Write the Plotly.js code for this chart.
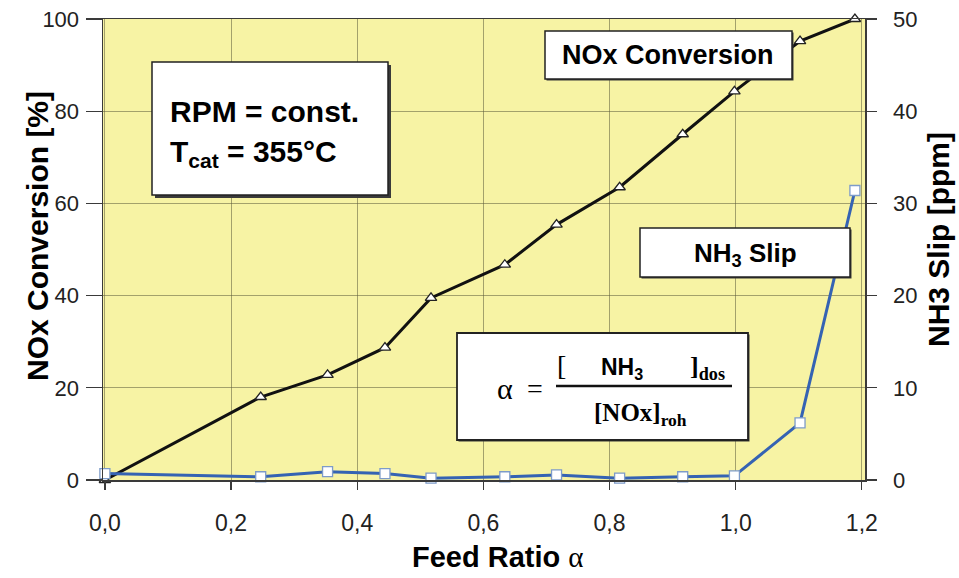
<!DOCTYPE html>
<html>
<head>
<meta charset="utf-8">
<script src="https://cdn.plot.ly/plotly-3.0.1.min.js"></script>
<style>
  html, body { margin: 0; padding: 0; background: #ffffff; }
  #chart { width: 959px; height: 578px; }
</style>
</head>
<body>
<div id="chart"></div>
<script>
// ---- data ----
const feedRatio     = [0, 0.247, 0.353, 0.444, 0.517, 0.634, 0.716, 0.816, 0.916, 0.998, 1.102, 1.189];
const noxConversion = [0, 18.0, 22.8, 28.7, 39.5, 46.7, 55.4, 63.5, 75.0, 84.3, 95.2, 100];
const nh3Slip       = [0.7, 0.35, 0.9, 0.7, 0.2, 0.35, 0.55, 0.2, 0.35, 0.45, 6.2, 31.4];

const xTickValues = [0, 0.2, 0.4, 0.6, 0.8, 1.0, 1.2];
const yLeftTicks  = [0, 20, 40, 60, 80, 100];
const yRightTicks = [0, 10, 20, 30, 40, 50];

const seriesNames = ['NOx Conversion', 'NH3 Slip'];
const xTitle = 'Feed Ratio';
const yLeftTitle = 'NOx Conversion [%]';
const yRightTitle = 'NH3 Slip [ppm]';

// ---- layout helpers (plot area in pixels) ----
const W = 959, H = 578;
const PL = 103, PR = 865, PT = 19, PB = 480;
const px = v => (v - PL) / (PR - PL);
const py = v => (PB - v) / (PB - PT);

const SANS = 'Arial, "Liberation Sans", Helvetica, sans-serif';
const SERIF = '"Times New Roman", "Liberation Serif", "DejaVu Serif", serif';

const traces = [
  {
    x: feedRatio, y: noxConversion, name: seriesNames[0], yaxis: 'y',
    type: 'scatter', mode: 'lines+markers', cliponaxis: false,
    line: { color: '#111111', width: 3 },
    marker: { symbol: 'triangle-up', size: 10, color: '#ffffff', line: { color: '#222222', width: 1.3 } }
  },
  {
    x: feedRatio, y: nh3Slip, name: seriesNames[1], yaxis: 'y2',
    type: 'scatter', mode: 'lines+markers', cliponaxis: false,
    line: { color: '#3563b3', width: 3 },
    marker: { symbol: 'square', size: 10, color: '#ffffff', line: { color: '#7d9bc9', width: 1.3 } }
  }
];

function boxShapes(x0, y0, x1, y1, shadow, lw) {
  const s = [];
  if (shadow) {
    s.push({ type: 'rect', xref: 'paper', yref: 'paper',
      x0: px(x0 + shadow), x1: px(x1 + shadow), y0: py(y1 + shadow), y1: py(y0 + shadow),
      fillcolor: '#3a3a3a', line: { width: 0 }, layer: 'above' });
  }
  s.push({ type: 'rect', xref: 'paper', yref: 'paper',
    x0: px(x0), x1: px(x1), y0: py(y1), y1: py(y0),
    fillcolor: '#ffffff', line: { color: '#222222', width: lw }, layer: 'above' });
  return s;
}

const shapes = [].concat(
  boxShapes(152, 62, 388, 195, 3, 1.5),
  boxShapes(545, 31, 792, 79, 1.5, 1.5),
  boxShapes(640, 228, 850, 277, 1.5, 1.5),
  boxShapes(457, 333, 748, 440, 1.5, 1.8),
  [{ type: 'line', xref: 'paper', yref: 'paper', x0: px(556), x1: px(732), y0: py(386), y1: py(386),
     line: { color: '#111111', width: 2.5 }, layer: 'above' }]
);

function ann(text, x, y, size, family, xanchor, extra) {
  return Object.assign({
    text: text, xref: 'paper', yref: 'paper', x: px(x), y: py(y),
    xanchor: xanchor || 'center', yanchor: 'middle', showarrow: false,
    font: { size: size, family: family, color: '#000000' }
  }, extra || {});
}

const annotations = [
  ann('<b>RPM = const.</b>', 168, 111, 30, SANS, 'left'),
  ann('<b>T<sub>cat</sub> = 355°C</b>', 168, 153, 30, SANS, 'left'),
  ann('<b>NOx Conversion</b>', 668, 55, 27, SANS),
  ann('<b>NH<sub>3</sub> Slip</b>', 745, 254, 26, SANS),
  ann('α', 505, 388, 30, SERIF),
  ann('=', 535, 388, 28, SERIF),
  ann('[', 561, 365, 28, SERIF),
  ann('<b>NH<sub>3</sub></b>', 622, 368, 23, SANS),
  ann('<b>]</b><sub><b>dos</b></sub>', 688, 368, 26, SERIF, 'left'),
  ann('<b>[NOx]</b><sub><b>roh</b></sub>', 640, 414, 25, SERIF),
  // axis titles
  ann('<b>' + xTitle + '</b> <span style="font-family:' + SERIF.replace(/"/g, "'") + '">α</span>', 498, 557, 29, SANS),
  ann('<b>' + yLeftTitle + '</b>', 38, 236, 30, SANS, 'center', { textangle: -90 }),
  ann('<b>' + yRightTitle + '</b>', 938, 240, 30, SANS, 'center', { textangle: -90 })
];

const layout = {
  width: W, height: H,
  margin: { l: PL, r: W - PR, t: PT, b: H - PB, pad: 0 },
  paper_bgcolor: '#ffffff',
  plot_bgcolor: '#f7f3a4',
  showlegend: false,
  separators: ', ',
  xaxis: {
    range: [-0.003, 1.205], tickvals: xTickValues, tickformat: '.1f',
    showgrid: true, gridcolor: 'rgba(95,92,60,0.55)', gridwidth: 1,
    zeroline: false, showline: true, linecolor: '#3a3a3a', linewidth: 1.5, mirror: true,
    ticks: 'outside', ticklen: 8, tickwidth: 1.3, tickcolor: '#3a3a3a',
    tickfont: { size: 23, family: SANS, color: '#222222' },
    ticklabelstandoff: 14
  },
  yaxis: {
    range: [0, 100], tickvals: yLeftTicks,
    showgrid: true, gridcolor: 'rgba(95,92,60,0.55)', gridwidth: 1,
    zeroline: false, showline: true, linecolor: '#3a3a3a', linewidth: 1.5,
    ticks: 'outside', ticklen: 16, tickwidth: 1.3, tickcolor: '#3a3a3a',
    tickfont: { size: 22, family: SANS, color: '#222222' },
    ticklabelstandoff: 2
  },
  yaxis2: {
    range: [0, 50], tickvals: yRightTicks, overlaying: 'y', side: 'right',
    showgrid: false, zeroline: false, showline: true, linecolor: '#3a3a3a', linewidth: 1.5,
    ticks: 'outside', ticklen: 10, tickwidth: 1.3, tickcolor: '#3a3a3a',
    tickfont: { size: 22, family: SANS, color: '#222222' },
    ticklabelstandoff: 12
  },
  shapes: shapes,
  annotations: annotations
};

Plotly.newPlot('chart', traces, layout, { displayModeBar: false, staticPlot: true });
</script>
</body>
</html>
